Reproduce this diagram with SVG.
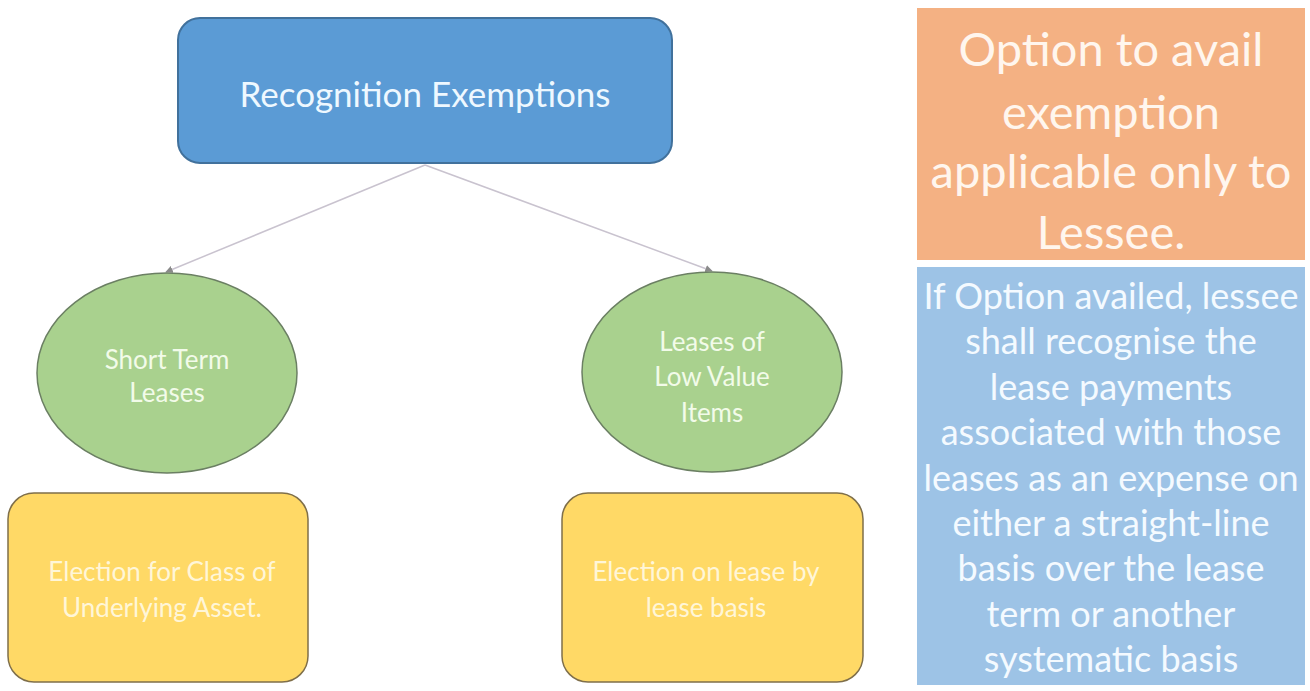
<svg xmlns="http://www.w3.org/2000/svg" width="1310" height="691" viewBox="0 0 1310 691">
  <style>
    .t { font-family: Lato, "Open Sans", "Liberation Sans", sans-serif; text-anchor: middle; fill: #ffffff; }
    .title { font-size: 35px; fill: #eef8ff; }
    .oval { fill: #a9d18e; stroke: #6b7f63; stroke-width: 1.5; }
    .ovalText { font-size: 26px; fill: #f2fbe9; }
    .card { fill: #ffd966; stroke: #7f6f4a; stroke-width: 1.5; }
    .cardText { font-size: 26px; fill: #fff6d8; }
    .note1 { font-size: 47px; fill: #fff6ee; }
    .note2 { font-size: 36px; fill: #f4faff; }
    .edge { stroke: #c9c3cf; stroke-width: 1.5; fill: none; marker-end: url(#arrow); }
  </style>
  <defs>
    <marker id="arrow" viewBox="0 0 10 10" refX="9" refY="5" markerWidth="5" markerHeight="5" orient="auto">
      <path d="M0,0 L10,5 L0,10 z" fill="#8a8a8a"/>
    </marker>
  </defs>

  <rect x="0" y="0" width="1310" height="691" fill="#ffffff"/>

  <!-- connectors -->
  <g id="connectors">
    <line class="edge" x1="425" y1="165" x2="166" y2="272"/>
    <line class="edge" x1="425" y1="165" x2="712" y2="271"/>
  </g>

  <!-- root -->
  <g id="recognition-exemptions">
    <rect x="178" y="18" width="494" height="145" rx="22" fill="#5b9bd5" stroke="#41719c" stroke-width="2"/>
    <text class="t title" x="425" y="107">Recognition Exemptions</text>
  </g>

  <!-- exemption types -->
  <g id="short-term-leases">
    <ellipse class="oval" cx="167" cy="373" rx="130" ry="100"/>
    <text class="t ovalText" x="167" y="369">Short Term</text>
    <text class="t ovalText" x="167" y="402">Leases</text>
  </g>
  <g id="low-value-items">
    <ellipse class="oval" cx="712" cy="372" rx="130" ry="100"/>
    <text class="t ovalText" x="712" y="351">Leases of</text>
    <text class="t ovalText" x="712" y="386">Low Value</text>
    <text class="t ovalText" x="712" y="422">Items</text>
  </g>

  <!-- elections -->
  <g id="election-class">
    <rect class="card" x="8" y="493" width="300" height="189" rx="26"/>
    <text class="t cardText" x="162" y="581">Election for Class of</text>
    <text class="t cardText" x="162" y="617">Underlying Asset.</text>
  </g>
  <g id="election-lease">
    <rect class="card" x="562" y="493" width="301" height="189" rx="26"/>
    <text class="t cardText" x="706" y="581">Election on lease by</text>
    <text class="t cardText" x="706" y="617">lease basis</text>
  </g>

  <!-- side notes -->
  <g id="note-option">
    <rect x="917" y="8" width="388" height="252" fill="#f4b183"/>
    <text class="t note1" x="1111" y="66">Option to avail</text>
    <text class="t note1" x="1111" y="129">exemption</text>
    <text class="t note1" x="1111" y="188">applicable only to</text>
    <text class="t note1" x="1111" y="249">Lessee.</text>
  </g>
  <g id="note-treatment">
    <rect x="917" y="267" width="388" height="418" fill="#9dc3e6"/>
    <text class="t note2" x="1111" y="309">If Option availed, lessee</text>
    <text class="t note2" x="1111" y="354">shall recognise the</text>
    <text class="t note2" x="1111" y="400">lease payments</text>
    <text class="t note2" x="1111" y="445">associated with those</text>
    <text class="t note2" x="1111" y="491">leases as an expense on</text>
    <text class="t note2" x="1111" y="536">either a straight-line</text>
    <text class="t note2" x="1111" y="581">basis over the lease</text>
    <text class="t note2" x="1111" y="627">term or another</text>
    <text class="t note2" x="1111" y="672">systematic basis</text>
  </g>
</svg>
